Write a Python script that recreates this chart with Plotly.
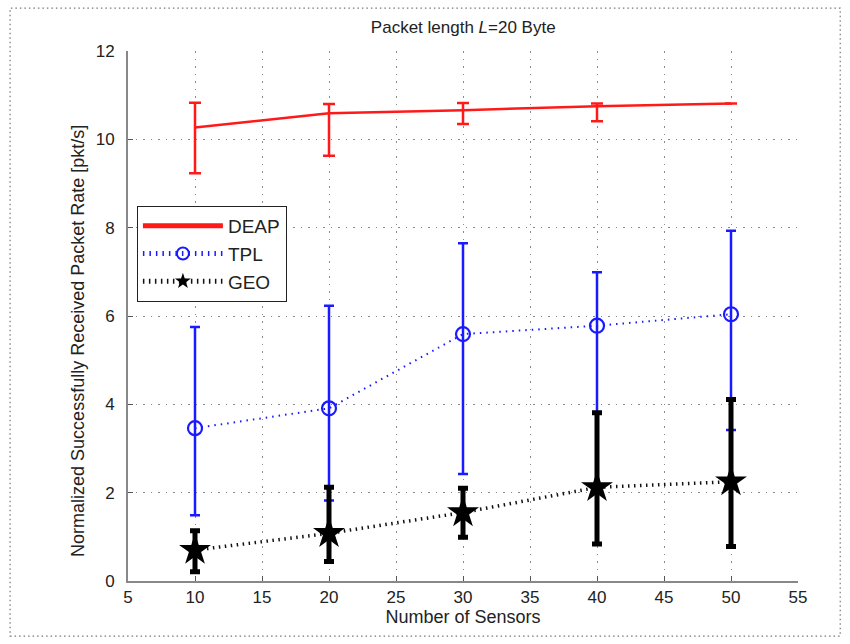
import plotly.graph_objects as go

sensors = [10, 20, 30, 40, 50]

deap = [10.27, 10.59, 10.66, 10.75, 10.81]
deap_hi = [10.83, 10.80, 10.82, 10.81, 10.81]
deap_lo = [9.23, 9.63, 10.35, 10.41, 10.81]

tpl = [3.46, 3.91, 5.59, 5.78, 6.04]
tpl_hi = [5.75, 6.23, 7.65, 6.99, 7.93]
tpl_lo = [1.49, 1.82, 2.42, 3.82, 3.42]

geo = [0.70, 1.08, 1.55, 2.12, 2.25]
geo_hi = [1.14, 2.12, 2.10, 3.81, 4.11]
geo_lo = [0.21, 0.44, 0.99, 0.84, 0.78]

x_ticks = [5, 10, 15, 20, 25, 30, 35, 40, 45, 50, 55]
y_ticks = [0, 2, 4, 6, 8, 10, 12]


def up(v, hi):
    return [h - a for a, h in zip(v, hi)]


def down(v, lo):
    return [a - l for a, l in zip(v, lo)]


FONT = "Liberation Sans, Arial, sans-serif"
TXT = "#222222"

fig = go.Figure()
fig.add_trace(go.Scatter(
    x=sensors, y=deap, name="DEAP", mode="lines",
    line=dict(color="#ff1a1a", width=2.5),
    error_y=dict(type="data", symmetric=False, array=up(deap, deap_hi),
                 arrayminus=down(deap, deap_lo), color="#ff1a1a",
                 thickness=2.5, width=6),
))
fig.add_trace(go.Scatter(
    x=sensors, y=tpl, name="TPL", mode="lines+markers",
    line=dict(color="#1a1aff", width=2, dash="1.5px,5px"),
    marker=dict(symbol="circle-open", size=14, color="#1a1aff",
                line=dict(width=2.2, color="#1a1aff")),
    error_y=dict(type="data", symmetric=False, array=up(tpl, tpl_hi),
                 arrayminus=down(tpl, tpl_lo), color="#1a1aff",
                 thickness=2.5, width=5),
))
fig.add_trace(go.Scatter(
    x=sensors, y=geo, name="GEO", mode="lines+markers",
    line=dict(color="#111111", width=3.5, dash="1.5px,4.5px"),
    marker=dict(symbol="star", size=24, color="#000000"),
    error_y=dict(type="data", symmetric=False, array=up(geo, geo_hi),
                 arrayminus=down(geo, geo_lo), color="#000000",
                 thickness=5, width=5),
))

# dotted frame round the figure
fig.add_shape(type="rect", xref="paper", yref="paper",
              x0=-0.176, x1=1.063, y0=-0.104, y1=1.081,
              line=dict(color="#777777", width=1.2, dash="1.5px,3px"),
              layer="below")

# y-axis title placed as in the reference
fig.add_annotation(
    text="Normalized Successfully Received Packet Rate [pkt/s]",
    xref="paper", yref="paper", x=-0.0746, y=0.453,
    xanchor="center", yanchor="middle", textangle=-90, showarrow=False,
    font=dict(family=FONT, size=18, color=TXT),
)

fig.update_layout(
    width=850, height=644,
    margin=dict(l=128, r=52, t=51, b=63),
    paper_bgcolor="white", plot_bgcolor="white",
    font=dict(family=FONT, size=17, color=TXT),
    title=dict(text="Packet length <i>L</i>=20 Byte", x=0.545, xanchor="center",
               y=1 - 27 / 644, yanchor="middle", yref="container",
               font=dict(family=FONT, size=17, color=TXT)),
    showlegend=True,
    legend=dict(x=0.013, y=0.708, xanchor="left", yanchor="top",
                bgcolor="white", bordercolor="#222222", borderwidth=1.2,
                font=dict(family=FONT, size=19, color=TXT),
                itemsizing="constant", itemwidth=80, tracegroupgap=4),
)
fig.update_xaxes(
    range=[5, 55], tickvals=x_ticks, ticktext=[str(t) for t in x_ticks],
    showline=True, linecolor="#888888", linewidth=2, mirror=False,
    ticks="inside", ticklen=5, tickcolor="#555555",
    showgrid=True, gridcolor="#8a8a8a", gridwidth=1.3, griddash="1.5px,6px",
    zeroline=False,
    title=dict(text="Number of Sensors", standoff=4,
               font=dict(family=FONT, size=18, color=TXT)),
    tickfont=dict(family=FONT, size=17, color=TXT),
)
fig.update_yaxes(
    range=[0, 12], tickvals=y_ticks, ticktext=[str(t) for t in y_ticks],
    showline=True, linecolor="#888888", linewidth=2, mirror=False,
    ticks="inside", ticklen=5, tickcolor="#555555",
    showgrid=True, gridcolor="#8a8a8a", gridwidth=1.3, griddash="1.5px,6px",
    zeroline=False, ticklabelstandoff=8,
    tickfont=dict(family=FONT, size=17, color=TXT),
)

fig.write_html("out.html")
